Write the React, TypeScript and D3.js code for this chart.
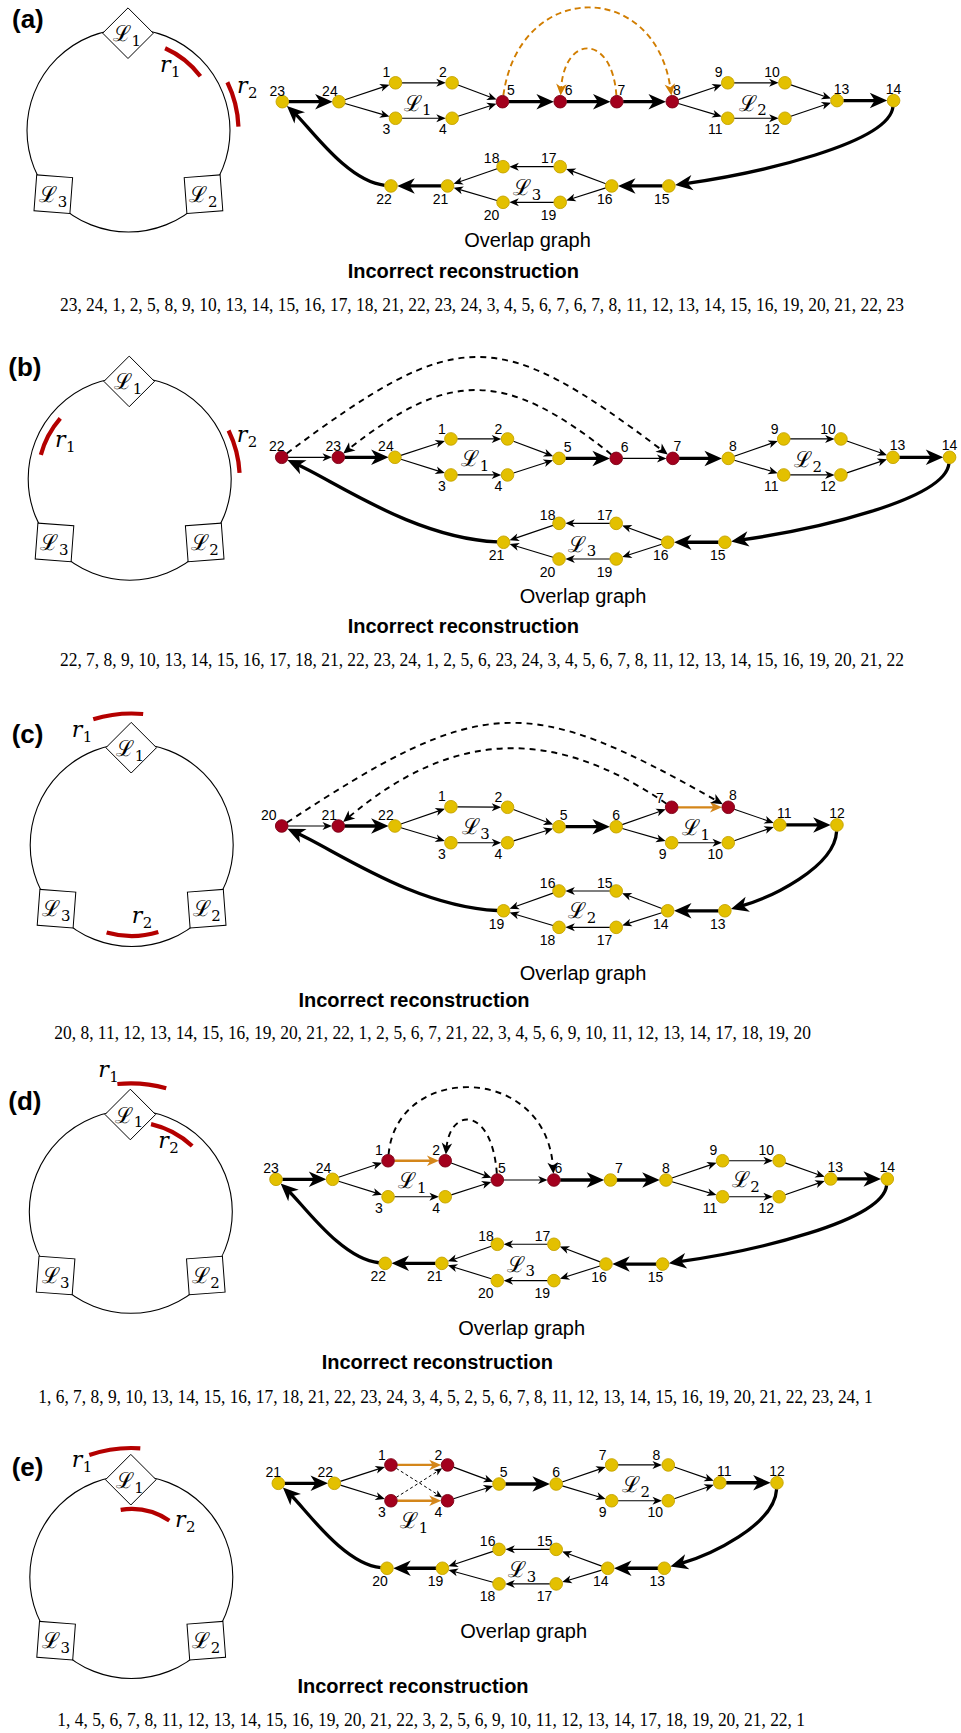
import React from "react";
import * as d3 from "d3";

// ---------------- data ----------------
// node rows: [id, column, row, label placement, isRed]
type NodeRow = [number, number, number, string, number];
type EdgeRow = [number, number, string];
// dashed arcs: [from, to, peak row, spread, colour key]
type ArcRow = [number, number, number, number, string];
// loop labels: [subscript, column, row]
type LRow = [number, number, number];
// reads on the genome circle: [subscript, radius, startDeg, endDeg, labelDx, labelDy]
type ReadRow = [number, number, number, number, number, number];

const nodesA: NodeRow[] = [
  [23, 0, 0, "L", 0], [24, 1, 0, "LL", 0], [1, 2, -1.05, "T", 0], [3, 2, 0.92, "B", 0],
  [2, 3, -1.05, "T", 0], [4, 3, 0.92, "B", 0], [5, 3.89, 0, "R", 1], [6, 4.91, 0, "R", 1],
  [7, 5.91, 0, "C", 1], [8, 6.89, 0, "C", 1], [9, 7.87, -1.05, "T", 0], [11, 7.87, 0.92, "B", 0],
  [10, 8.88, -1.05, "T", 0], [12, 8.88, 0.92, "B", 0], [13, 9.8, -0.06, "C", 0], [14, 10.8, -0.06, "A", 0],
  [22, 1.92, 4.68, "S", 0], [21, 2.92, 4.68, "S", 0], [18, 3.9, 3.61, "U", 0], [20, 3.9, 5.59, "D", 0],
  [17, 4.91, 3.61, "U", 0], [19, 4.91, 5.59, "D", 0], [16, 5.82, 4.68, "S", 0], [15, 6.83, 4.68, "S", 0],
];
const edgesA: EdgeRow[] = [
  [23, 24, "thick"], [24, 1, "thin"], [24, 3, "thin"], [1, 2, "thin"], [3, 4, "thin"], [2, 5, "thin"], [4, 5, "thin"],
  [5, 6, "thick"], [6, 7, "thick"], [7, 8, "thick"], [8, 9, "thin"], [8, 11, "thin"], [9, 10, "thin"], [11, 12, "thin"],
  [10, 13, "thin"], [12, 13, "thin"], [13, 14, "thick"], [14, 15, "curveR"], [15, 16, "thick"], [16, 17, "thin"],
  [16, 19, "thin"], [17, 18, "thin"], [19, 20, "thin"], [18, 21, "thin"], [20, 21, "thin"], [21, 22, "thick"],
  [22, 23, "curveL"],
];
const arcsA: ArcRow[] = [[5, 8, -5.19, 0.1, "o"], [7, 6, -2.91, 0.08, "o"]];
const loopsA: LRow[] = [[1, 2.39, 0.49], [2, 8.31, 0.49], [3, 4.33, 5.18]];
const readsA: ReadRow[] = [[1, 90, -66, -37, 31.5, -58.5], [2, 110, -26, -2, 108.5, -37.5]];
const seqA = [23, 24, 1, 2, 5, 8, 9, 10, 13, 14, 15, 16, 17, 18, 21, 22, 23, 24, 3, 4, 5, 6, 7, 6, 7, 8, 11, 12, 13, 14, 15, 16, 19, 20, 21, 22, 23];

const nodesB: NodeRow[] = [
  [22, 0, 0, "L", 1], [23, 1, 0, "L", 1], [24, 2, 0, "LL", 0], [1, 2.99, -1.02, "T", 0], [3, 2.99, 0.98, "B", 0],
  [2, 3.99, -1.02, "T", 0], [4, 3.99, 0.98, "B", 0], [5, 4.9, 0.06, "R", 0], [6, 5.91, 0.06, "R", 1],
  [7, 6.91, 0.06, "C", 1], [8, 7.89, 0.06, "C", 0], [9, 8.87, -1.02, "T", 0], [11, 8.87, 0.98, "B", 0],
  [10, 9.88, -1.02, "T", 0], [12, 9.88, 0.98, "B", 0], [13, 10.8, 0, "C", 0], [14, 11.8, 0, "A", 0],
  [21, 3.92, 4.72, "S", 0], [18, 4.9, 3.67, "U", 0], [20, 4.9, 5.65, "D", 0], [17, 5.91, 3.67, "U", 0],
  [19, 5.91, 5.65, "D", 0], [16, 6.82, 4.72, "S", 0], [15, 7.83, 4.72, "S", 0],
];
const edgesB: EdgeRow[] = [
  [22, 23, "thin"], [23, 24, "thick"], [24, 1, "thin"], [24, 3, "thin"], [1, 2, "thin"], [3, 4, "thin"], [2, 5, "thin"],
  [4, 5, "thin"], [5, 6, "thick"], [6, 7, "thin"], [7, 8, "thick"], [8, 9, "thin"], [8, 11, "thin"], [9, 10, "thin"],
  [11, 12, "thin"], [10, 13, "thin"], [12, 13, "thin"], [13, 14, "thick"], [14, 15, "curveR"], [15, 16, "thick"],
  [16, 17, "thin"], [16, 19, "thin"], [17, 18, "thin"], [19, 20, "thin"], [18, 21, "thin"], [20, 21, "thin"],
  [21, 22, "curveL"],
];
const arcsB: ArcRow[] = [[22, 7, -5.58, 0.45, "k"], [6, 23, -3.74, 0.4, "k"]];
const loopsB: LRow[] = [[1, 3.42, 0.48], [2, 9.3, 0.52], [3, 5.31, 5.24]];
const readsB: ReadRow[] = [[1, 92, 195, 221, -74.7, -32], [2, 110, -26, -3, 107, -37]];
const seqB = [22, 7, 8, 9, 10, 13, 14, 15, 16, 17, 18, 21, 22, 23, 24, 1, 2, 5, 6, 23, 24, 3, 4, 5, 6, 7, 8, 11, 12, 13, 14, 15, 16, 19, 20, 21, 22];

const nodesC: NodeRow[] = [
  [20, 0, 0, "LLL", 1], [21, 1, 0, "LL", 1], [22, 2, 0, "LL", 0], [1, 2.99, -1.07, "T", 0], [3, 2.99, 0.93, "B", 0],
  [2, 3.99, -1.04, "T", 0], [4, 3.99, 0.93, "B", 0], [5, 4.9, 0.04, "C", 0], [6, 5.91, 0.04, "A", 0],
  [7, 6.89, -1.04, "TT", 1], [9, 6.89, 0.93, "B", 0], [8, 7.89, -1.04, "C", 1], [10, 7.89, 0.93, "B", 0],
  [11, 8.8, -0.06, "C", 0], [12, 9.81, -0.06, "A", 0], [19, 3.92, 4.71, "S", 0], [16, 4.9, 3.61, "U", 0],
  [18, 4.9, 5.63, "D", 0], [15, 5.91, 3.61, "U", 0], [17, 5.91, 5.63, "D", 0], [14, 6.82, 4.71, "S", 0],
  [13, 7.83, 4.71, "S", 0],
];
const edgesC: EdgeRow[] = [
  [20, 21, "thin"], [21, 22, "thick"], [22, 1, "thin"], [22, 3, "thin"], [1, 2, "thin"], [3, 4, "thin"], [2, 5, "thin"],
  [4, 5, "thin"], [5, 6, "thick"], [6, 7, "thin"], [6, 9, "thin"], [7, 8, "orange"], [9, 10, "thin"], [8, 11, "thin"],
  [10, 11, "thin"], [11, 12, "thick"], [12, 13, "curveR"], [13, 14, "thick"], [14, 15, "thin"], [14, 17, "thin"],
  [15, 16, "thin"], [17, 18, "thin"], [16, 19, "thin"], [18, 19, "thin"], [19, 20, "curveL"],
];
const arcsC: ArcRow[] = [[20, 8, -5.74, 0.45, "k"], [7, 21, -4.32, 0.35, "k"]];
const loopsC: LRow[] = [[3, 3.43, 0.44], [1, 7.32, 0.5], [2, 5.31, 5.13]];
const readsC: ReadRow[] = [[1, 131.5, -107, -85, -60, -108.3], [2, 91, 73, 106, 0, 78.3]];
const seqC = [20, 8, 11, 12, 13, 14, 15, 16, 19, 20, 21, 22, 1, 2, 5, 6, 7, 21, 22, 3, 4, 5, 6, 9, 10, 11, 12, 13, 14, 17, 18, 19, 20];

const nodesD: NodeRow[] = [
  [23, 0, 0, "L", 0], [24, 1, 0, "LL", 0], [1, 1.98, -1.03, "T", 1], [3, 1.98, 0.97, "B", 0],
  [2, 2.99, -1.03, "T", 1], [4, 2.99, 0.97, "B", 0], [5, 3.91, 0.04, "C", 1], [6, 4.91, 0.04, "C", 1],
  [7, 5.91, 0.04, "R", 0], [8, 6.89, 0.04, "A", 0], [9, 7.89, -1.03, "T", 0], [11, 7.89, 0.97, "B", 0],
  [10, 8.89, -1.03, "T", 0], [12, 8.89, 0.97, "B", 0], [13, 9.8, -0.02, "C", 0], [14, 10.8, -0.02, "A", 0],
  [22, 1.93, 4.67, "S", 0], [21, 2.93, 4.67, "S", 0], [18, 3.91, 3.61, "U", 0], [20, 3.91, 5.63, "D", 0],
  [17, 4.91, 3.61, "U", 0], [19, 4.91, 5.63, "D", 0], [16, 5.83, 4.71, "S", 0], [15, 6.83, 4.71, "S", 0],
];
const edgesD: EdgeRow[] = [
  [23, 24, "thick"], [24, 1, "thin"], [24, 3, "thin"], [1, 2, "orange"], [3, 4, "thin"], [2, 5, "thin"], [4, 5, "thin"],
  [5, 6, "thin"], [6, 7, "thick"], [7, 8, "thick"], [8, 9, "thin"], [8, 11, "thin"], [9, 10, "thin"], [11, 12, "thin"],
  [10, 13, "thin"], [12, 13, "thin"], [13, 14, "thick"], [14, 15, "curveR"], [15, 16, "thick"], [16, 17, "thin"],
  [16, 19, "thin"], [17, 18, "thin"], [19, 20, "thin"], [18, 21, "thin"], [20, 21, "thin"], [21, 22, "thick"],
  [22, 23, "curveL"],
];
const arcsD: ArcRow[] = [[1, 6, -5.07, 0.05, "k"], [5, 2, -3.24, 0.1, "k"]];
const loopsD: LRow[] = [[1, 2.41, 0.5], [2, 8.3, 0.41], [3, 4.33, 5.13]];
const readsD: ReadRow[] = [[1, 128.5, -96, -74, -32.5, -135.1], [2, 90, -77, -47, 27.5, -63.5]];
const seqD = [1, 6, 7, 8, 9, 10, 13, 14, 15, 16, 17, 18, 21, 22, 23, 24, 3, 4, 5, 2, 5, 6, 7, 8, 11, 12, 13, 14, 15, 16, 19, 20, 21, 22, 23, 24, 1];

const nodesE: NodeRow[] = [
  [21, 0, 0, "L", 0], [22, 0.99, 0, "LL", 0], [1, 1.99, -1.02, "T", 1], [3, 1.99, 0.97, "B", 1],
  [2, 2.99, -1.02, "T", 1], [4, 2.99, 0.97, "B", 1], [5, 3.9, 0.04, "C", 0], [6, 4.91, 0.04, "A", 0],
  [7, 5.89, -1.02, "T", 0], [9, 5.89, 0.97, "B", 0], [8, 6.89, -1.02, "TT", 0], [10, 6.89, 0.97, "B", 0],
  [11, 7.8, -0.03, "C", 0], [12, 8.81, -0.03, "A", 0], [20, 1.92, 4.72, "S", 0], [19, 2.9, 4.72, "S", 0],
  [16, 3.9, 3.67, "U", 0], [18, 3.9, 5.59, "D", 0], [15, 4.91, 3.67, "U", 0], [17, 4.91, 5.59, "D", 0],
  [14, 5.82, 4.72, "S", 0], [13, 6.82, 4.72, "S", 0],
];
const edgesE: EdgeRow[] = [
  [21, 22, "thick"], [22, 1, "thin"], [22, 3, "thin"], [1, 2, "orange"], [3, 4, "orange"], [1, 4, "dot"], [3, 2, "dot"],
  [2, 5, "thin"], [4, 5, "thin"], [5, 6, "thick"], [6, 7, "thin"], [6, 9, "thin"], [7, 8, "thin"], [9, 10, "thin"],
  [8, 11, "thin"], [10, 11, "thin"], [11, 12, "thick"], [12, 13, "curveR"], [13, 14, "thick"], [14, 15, "thin"],
  [14, 17, "thin"], [15, 16, "thin"], [17, 18, "thin"], [16, 19, "thin"], [18, 19, "thin"], [19, 20, "thick"],
  [20, 21, "curveL"],
];
const arcsE: ArcRow[] = [];
const loopsE: LRow[] = [[1, 2.4, 2.5], [2, 6.32, 0.47], [3, 4.31, 5.19]];
const readsE: ReadRow[] = [[1, 129, -109, -86, -59.6, -110.3], [2, 68, -99, -56, 43.7, -50.3]];
const seqE = [1, 4, 5, 6, 7, 8, 11, 12, 13, 14, 15, 16, 19, 20, 21, 22, 3, 2, 5, 6, 9, 10, 11, 12, 13, 14, 17, 18, 19, 20, 21, 22, 1];

const panelTags = ["(a)", "(b)", "(c)", "(d)", "(e)"];
const captionOverlap = "Overlap graph";
const captionIncorrect = "Incorrect reconstruction";

// ---------------- layout (positions / sizes) ----------------
const COL = 56.6;
const ROW = 18;
const NR = 6.3;
const CIRCLE_R = 101.5;

const layout = [
  { tx: 12, ty: 28, cx: 128.5, cy: 130.5, gx: 282.3, gy: 101.7, ov: [527.5, 247], inc: [463.3, 278], seq: [60, 904, 311] },
  { tx: 8.3, ty: 376, cx: 129.7, cy: 478.7, gx: 281.7, gy: 457.3, ov: [583, 603], inc: [463.3, 633], seq: [60, 904, 666] },
  { tx: 11.7, ty: 743, cx: 131.7, cy: 845, gx: 281.7, gy: 826, ov: [583, 980], inc: [414, 1006.5], seq: [54.3, 811, 1039] },
  { tx: 8.3, ty: 1109.5, cx: 130.8, cy: 1211.8, gx: 276, gy: 1179.3, ov: [521.7, 1335], inc: [437.3, 1369], seq: [38.3, 872.7, 1402.5] },
  { tx: 11.7, ty: 1476, cx: 131.3, cy: 1577, gx: 278.3, gy: 1483.3, ov: [523.7, 1638], inc: [413, 1693], seq: [57.3, 805, 1726] },
];

const SANS = "'Liberation Sans', Arial, Helvetica, sans-serif";
const SERIF = "'Liberation Serif', 'DejaVu Serif', serif";
const MATH = "'DejaVu Serif', 'Liberation Serif', serif";

const YELLOW = "#e3c000";
const YELLOW_S = "#c5a300";
const RED = "#a3001d";
const RED_S = "#7c0015";
const ORANGE = "#d4861a";
const READ = "#b40000";

const LABEL_POS: Record<string, [string, number, number]> = {
  T: ["end", -5.2, -5.4],
  TT: ["end", -8, -4.5],
  B: ["end", -5.2, 16.2],
  U: ["end", -3.6, -3.4],
  D: ["end", -3.8, 17.5],
  R: ["start", 4.6, -6.7],
  C: ["middle", 4.5, -7],
  A: ["middle", 0, -7],
  L: ["middle", -5, -6],
  LL: ["middle", -9, -6],
  LLL: ["middle", -13, -6],
  S: ["middle", -7, 18],
};

type St = { w: number; color: string; len: number; wid: number; dash?: string };
const EDGE_STYLE: Record<string, St> = {
  thin: { w: 1.15, color: "#000", len: 9.5, wid: 8 },
  thick: { w: 3.3, color: "#000", len: 17.5, wid: 15.5 },
  curveR: { w: 3.3, color: "#000", len: 17.5, wid: 15.5 },
  curveL: { w: 3.3, color: "#000", len: 17.5, wid: 15.5 },
  orange: { w: 2.3, color: ORANGE, len: 12, wid: 10.5 },
  dot: { w: 1, color: "#000", len: 8, wid: 7, dash: "3,2.5" },
};
const ARC_STYLE: Record<string, St> = {
  k: { w: 1.9, color: "#000", len: 11.5, wid: 10.5, dash: "6,5" },
  o: { w: 1.9, color: "#d17d00", len: 11.5, wid: 10.5, dash: "6,4" },
};

type Pt = [number, number];
function unit(dx: number, dy: number): Pt {
  const l = Math.hypot(dx, dy) || 1;
  return [dx / l, dy / l];
}
function headPath(tip: Pt, dir: Pt, len: number, wid: number) {
  const [ux, uy] = dir;
  const px = -uy, py = ux;
  const bx = tip[0] - ux * len, by = tip[1] - uy * len;
  const nx = tip[0] - ux * len * 0.72, ny = tip[1] - uy * len * 0.72;
  const p = d3.path();
  p.moveTo(tip[0], tip[1]);
  p.lineTo(bx + (px * wid) / 2, by + (py * wid) / 2);
  p.lineTo(nx, ny);
  p.lineTo(bx - (px * wid) / 2, by - (py * wid) / 2);
  p.closePath();
  return p.toString();
}

function Sub({ base, sub, x, y, anchor, italic, size }: any) {
  return (
    <text x={x} y={y} textAnchor={anchor} fontFamily={MATH} fontSize={size} fontStyle={italic ? "italic" : "normal"} fill="#000">
      {base}
      <tspan fontSize={size * 0.68} dy={size * 0.22} fontStyle="normal" dx={0.5}>{sub}</tspan>
    </text>
  );
}

function Panel({ L, nodes, edges, arcs, loops, reads, seq, tag }: any) {
  const x = d3.scaleLinear().domain([0, 1]).range([L.gx, L.gx + COL]);
  const y = d3.scaleLinear().domain([0, 1]).range([L.gy, L.gy + ROW]);
  const P = new Map<number, Pt>();
  (nodes as NodeRow[]).forEach((n) => P.set(n[0], [x(n[1]), y(n[2])]));

  const els: any[] = [];
  // ---- genome circle ----
  const { cx, cy } = L;
  els.push(<circle key="circ" cx={cx} cy={cy} r={CIRCLE_R} fill="none" stroke="#000" strokeWidth={1.1} />);
  const dcx = cx - 0.5, dcy = cy - 97.3, hd = 25.3;
  els.push(
    <polygon key="dia" points={`${dcx},${dcy - hd} ${dcx + hd},${dcy} ${dcx},${dcy + hd} ${dcx - hd},${dcy}`} fill="#fff" stroke="#000" strokeWidth={1} />
  );
  els.push(<Sub key="dl" base="ℒ" sub="1" x={dcx - 1} y={dcy + 8} anchor="middle" size={22} />);
  const sq = 36;
  [[-75.2, 4.3, "3"], [75.0, -4.3, "2"]].forEach(([dx, rot, s]: any) => {
    const qx = cx + dx, qy = cy + 63.7;
    els.push(
      <rect key={"sq" + s} x={qx - sq / 2} y={qy - sq / 2} width={sq} height={sq} fill="#fff" stroke="#000" strokeWidth={1}
        transform={`rotate(${rot},${qx},${qy})`} />
    );
    els.push(<Sub key={"sql" + s} base="ℒ" sub={s} x={qx} y={qy + 7.5} anchor="middle" size={22} />);
  });
  (reads as ReadRow[]).forEach(([s, r, a0, a1, lx, ly]) => {
    const p = d3.path();
    p.arc(cx, cy, r, (a0 * Math.PI) / 180, (a1 * Math.PI) / 180, false);
    els.push(<path key={"rd" + s} d={p.toString()} fill="none" stroke={READ} strokeWidth={4.2} />);
    els.push(<Sub key={"rl" + s} base="r" sub={String(s)} x={cx + lx} y={cy + ly} anchor="start" italic size={22} />);
  });

  // ---- edges ----
  const lines: any[] = [];
  (edges as EdgeRow[]).forEach(([f, t, kind], i) => {
    const A = P.get(f)!, B = P.get(t)!;
    const st = EDGE_STYLE[kind];
    let d = "";
    let tip: Pt, dir: Pt;
    if (kind === "curveR" || kind === "curveL") {
      let P1: Pt, P2: Pt;
      if (kind === "curveR") {
        const dx = A[0] - B[0], dy = B[1] - A[1];
        P1 = [A[0] - 0.02 * dx, A[1] + 0.5 * dy];
        P2 = [B[0] + 0.4 * dx, B[1] - 0.15 * dy];
      } else {
        const dx = A[0] - B[0], dy = A[1] - B[1];
        P1 = [A[0] - 0.4 * dx, A[1] - 0.05 * dy];
        P2 = [B[0] + 0.25 * dx, B[1] + 0.3 * dy];
      }
      const u0 = unit(P1[0] - A[0], P1[1] - A[1]);
      const s: Pt = [A[0] + u0[0] * NR, A[1] + u0[1] * NR];
      dir = unit(B[0] - P2[0], B[1] - P2[1]);
      tip = [B[0] - dir[0] * NR, B[1] - dir[1] * NR];
      const e: Pt = [tip[0] - dir[0] * st.len * 0.6, tip[1] - dir[1] * st.len * 0.6];
      const p = d3.path();
      p.moveTo(s[0], s[1]);
      p.bezierCurveTo(P1[0], P1[1], P2[0], P2[1], e[0], e[1]);
      d = p.toString();
    } else {
      dir = unit(B[0] - A[0], B[1] - A[1]);
      const s: Pt = [A[0] + dir[0] * NR, A[1] + dir[1] * NR];
      tip = [B[0] - dir[0] * NR, B[1] - dir[1] * NR];
      const e: Pt = [tip[0] - dir[0] * st.len * 0.6, tip[1] - dir[1] * st.len * 0.6];
      const p = d3.path();
      p.moveTo(s[0], s[1]);
      p.lineTo(e[0], e[1]);
      d = p.toString();
    }
    lines.push(
      <g key={"e" + i}>
        <path d={d} fill="none" stroke={st.color} strokeWidth={st.w} strokeDasharray={st.dash} />
        <path d={headPath(tip, dir, st.len, st.wid)} fill={st.color} />
      </g>
    );
  });
  (arcs as ArcRow[]).forEach(([f, t, peak, sp, ck], i) => {
    const A = P.get(f)!, B = P.get(t)!;
    const st = ARC_STYLE[ck];
    const py = y(peak);
    const h = (py - 0.125 * (A[1] - NR + B[1] - NR)) / 0.75;
    const dx = B[0] - A[0];
    const P1: Pt = [A[0] + sp * dx, h];
    const P2: Pt = [B[0] - sp * dx, h];
    const u0 = unit(P1[0] - A[0], P1[1] - A[1]);
    const s: Pt = [A[0] + u0[0] * NR, A[1] + u0[1] * NR];
    const dir = unit(B[0] - P2[0], B[1] - P2[1]);
    const tip: Pt = [B[0] - dir[0] * NR, B[1] - dir[1] * NR];
    const e: Pt = [tip[0] - dir[0] * st.len * 0.6, tip[1] - dir[1] * st.len * 0.6];
    const p = d3.path();
    p.moveTo(s[0], s[1]);
    p.bezierCurveTo(P1[0], P1[1], P2[0], P2[1], e[0], e[1]);
    lines.push(
      <g key={"a" + i}>
        <path d={p.toString()} fill="none" stroke={st.color} strokeWidth={st.w} strokeDasharray={st.dash} />
        <path d={headPath(tip, dir, st.len, st.wid)} fill={st.color} />
      </g>
    );
  });

  // ---- nodes ----
  const circles = (nodes as NodeRow[]).map((n) => {
    const [px, py] = P.get(n[0])!;
    const red = n[4] === 1;
    return <circle key={"n" + n[0]} cx={px} cy={py} r={NR} fill={red ? RED : YELLOW} stroke={red ? RED_S : YELLOW_S} strokeWidth={0.9} />;
  });
  const labels = (nodes as NodeRow[]).map((n) => {
    const [px, py] = P.get(n[0])!;
    const [anchor, ldx, ldy] = LABEL_POS[n[3]];
    return (
      <text key={"t" + n[0]} x={px + ldx} y={py + ldy} textAnchor={anchor} fontFamily={SANS} fontSize={14} fill="#000">
        {n[0]}
      </text>
    );
  });
  const loopLabels = (loops as LRow[]).map(([s, c, r]) => (
    <Sub key={"L" + s} base="ℒ" sub={String(s)} x={x(c)} y={y(r)} anchor="middle" size={22} />
  ));

  const seqText = (seq as number[]).join(", ");
  return (
    <g>
      <text x={L.tx} y={L.ty} fontFamily={SANS} fontWeight="bold" fontSize={26} fill="#000">{tag}</text>
      {els}
      {lines}
      {circles}
      {labels}
      {loopLabels}
      <text x={L.ov[0]} y={L.ov[1]} textAnchor="middle" fontFamily={SANS} fontSize={20} fill="#000">{captionOverlap}</text>
      <text x={L.inc[0]} y={L.inc[1]} textAnchor="middle" fontFamily={SANS} fontWeight="bold" fontSize={20} fill="#000">{captionIncorrect}</text>
      <text x={L.seq[0]} y={L.seq[2]} fontFamily={SERIF} fontSize={18} fill="#000" textLength={L.seq[1] - L.seq[0]} lengthAdjust="spacingAndGlyphs">
        {seqText}
      </text>
    </g>
  );
}

export default function App() {
  const panels = [
    { nodes: nodesA, edges: edgesA, arcs: arcsA, loops: loopsA, reads: readsA, seq: seqA },
    { nodes: nodesB, edges: edgesB, arcs: arcsB, loops: loopsB, reads: readsB, seq: seqB },
    { nodes: nodesC, edges: edgesC, arcs: arcsC, loops: loopsC, reads: readsC, seq: seqC },
    { nodes: nodesD, edges: edgesD, arcs: arcsD, loops: loopsD, reads: readsD, seq: seqD },
    { nodes: nodesE, edges: edgesE, arcs: arcsE, loops: loopsE, reads: readsE, seq: seqE },
  ];
  return (
    <svg width={961} height={1733} viewBox="0 0 961 1733" style={{ position: "absolute", left: 0, top: 0, display: "block" }}>
      <rect x={0} y={0} width={961} height={1733} fill="#fff" />
      {panels.map((p, i) => (
        <Panel key={i} L={layout[i]} tag={panelTags[i]} {...p} />
      ))}
    </svg>
  );
}
